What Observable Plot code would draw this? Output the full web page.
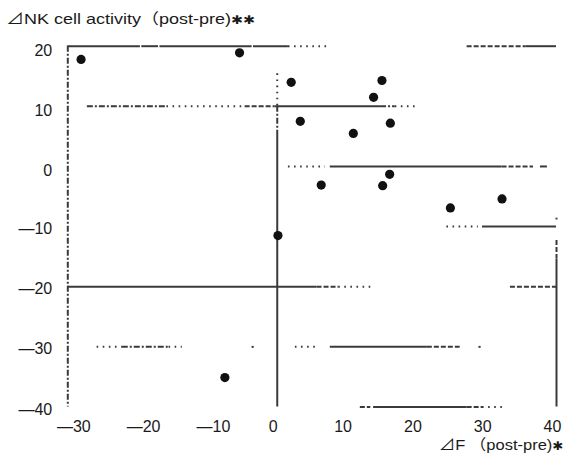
<!DOCTYPE html>
<html>
<head>
<meta charset="utf-8">
<script src="https://cdn.jsdelivr.net/npm/d3@7"></script>
<script src="https://cdn.jsdelivr.net/npm/@observablehq/plot@0.6"></script>
<style>
  html, body { margin: 0; padding: 0; background: #fff; }
  #wrap { position: relative; width: 568px; height: 456px; overflow: hidden; }
  .lbl { position: absolute; font-family: "Liberation Sans", "Noto Sans CJK JP", sans-serif;
         font-size: 15px; line-height: 15px; color: #1a1a1a; white-space: pre; }
  .star { font-family: "DejaVu Sans", sans-serif; font-size: 12px; }
  #title { left: 6px; top: 11px; transform: scaleX(1.2); transform-origin: left top; }
  #xlabel { right: 5px; top: 437px; transform: scaleX(1.1); transform-origin: right top; }
  #chart { position: absolute; left: 0; top: 30px; }
</style>
</head>
<body>
<div id="wrap">
  <div id="title" class="lbl">⊿NK cell activity（post-pre)<span class="star">✱✱</span></div>
  <div id="chart"></div>
  <div id="xlabel" class="lbl">⊿F （post-pre)<span class="star">✱</span></div>
</div>
<script>
// ΔF (x) against ΔNK cell activity (y), one dot per subject
const deltaF  = [-28.1, -5.4, 2.0, 3.3, 10.9, 13.8, 15.0, 16.2, 16.1, 15.1, 6.3, 24.8, 32.2, 0.1, -7.5];
const deltaNK = [17.8, 18.9, 14.0, 7.5, 5.5, 11.5, 14.3, 7.2, -1.3, -3.2, -3.1, -6.9, -5.4, -11.5, -35.1];

const xTicks = [-30, -20, -10, 0, 10, 20, 30, 40];
const yTicks = [20, 10, 0, -10, -20, -30, -40];

// Grid lines as printed: each one broken into runs of a given stroke style
// horizontal runs: [y, x1, x2, style]
const gridH = [
  [20, -30, -19.6, "solid"], [20, -19.4, -17.0, "solid"], [20, -16.8, -3.6, "solid"], [20, -3.4, 1.6, "solid"],
  [20, 1.6, 7.6, "dot"], [20, 27.2, 35.6, "dash"], [20, 35.6, 40, "solid"],
  [10, -27.2, -15.8, "dashdot"], [10, -15.8, -4.6, "dot"], [10, -4.6, -0.3, "dash"],
  [10, -0.3, 14.8, "solid"], [10, 14.8, 16.9, "dashdot"], [10, 16.9, 19.8, "dot"],
  [0, 1.6, 6.9, "dot"], [0, 7.6, 32.2, "solid"], [0, 32.2, 36.7, "dash"], [0, 37.7, 38.7, "solid"],
  [-10, 24.3, 28.8, "dot"], [-10, 29.4, 40, "solid"],
  [-20, -30, 5.7, "solid"], [-20, 5.7, 8.8, "dash"], [-20, 8.8, 13.8, "dot"], [-20, 33.4, 40, "dash"],
  [-30, -25.8, -22.2, "dot"], [-30, -22.2, -15.5, "dashdot"], [-30, -15.5, -13.6, "dot"],
  [-30, -3.6, -3.3, "solid"], [-30, 2.6, 5.9, "dot"], [-30, 7.6, 21.5, "solid"],
  [-30, 21.5, 26.2, "dash"], [-30, 28.9, 29.2, "solid"],
  [-40, 11.9, 13.4, "dash"], [-40, 13.8, 27.2, "solid"], [-40, 27.2, 29.4, "dash"], [-40, 29.4, 32.3, "dot"]
];
// vertical runs: [x, y1, y2, style]
const gridV = [
  [-30, 20, -40, "dashdot"],
  [0, 15.4, 10, "dot"], [0, 10, 6.0, "dashdot"], [0, 6.0, -40, "solid"],
  [40, -8.6, -8.9, "solid"], [40, -12.3, -15.4, "dash"], [40, -15.4, -40, "solid"]
];

const dashes = { solid: null, dash: "5,2", dashdot: "6,2,2,2", dot: "1.6,4.5" };
const hRows = gridH.map(([y, x1, x2, s]) => ({ y, x1, x2, s }));
const vRows = gridV.map(([x, y1, y2, s]) => ({ x, y1, y2, s }));
const pts = deltaF.map((x, i) => ({ x, y: deltaNK[i] }));

const gridInk = "#3a3a3a";
const gridMarks = Object.entries(dashes).flatMap(([s, dash]) => [
  Plot.ruleY(hRows.filter(d => d.s === s), {
    y: "y", x1: "x1", x2: "x2", stroke: gridInk, strokeWidth: 2,
    strokeDasharray: dash, strokeLinecap: "butt"
  }),
  Plot.ruleX(vRows.filter(d => d.s === s), {
    x: "x", y1: "y1", y2: "y2", stroke: gridInk, strokeWidth: 2,
    strokeDasharray: dash, strokeLinecap: "butt"
  })
]);

// negative values carry a long dash in place of the minus sign
const fmt = v => (v < 0 ? "—" + Math.abs(v) : String(v));
const tickText = { tickSize: 0, tickFormat: fmt, label: null, fontSize: 16 };

const chart = Plot.plot({
  width: 568,
  height: 426,
  marginTop: 15.7,
  marginBottom: 49.5,
  marginLeft: 67.3,
  marginRight: 12,
  x: { domain: [-30, 40] },
  y: { domain: [-40, 20] },
  style: { fontFamily: "'Liberation Sans', Arial, sans-serif", fontSize: "16px", color: "#1a1a1a", background: "#fff" },
  marks: [
    ...gridMarks,
    Plot.axisX(xTicks.filter(v => v < 0), { ...tickText, tickPadding: 13.5, dx: 6 }),
    Plot.axisX(xTicks.filter(v => v >= 0), { ...tickText, tickPadding: 13.5, dx: -4 }),
    Plot.axisY(yTicks.filter(v => v >= 0), { ...tickText, tickPadding: 15.6, dy: 4.5 }),
    Plot.axisY(yTicks.filter(v => v < 0), { ...tickText, tickPadding: 15.6, dy: 2.5 }),
    Plot.dot(pts, { x: "x", y: "y", r: 4.6, fill: "#111", stroke: "none" })
  ]
});
document.getElementById("chart").appendChild(chart);
</script>
</body>
</html>
